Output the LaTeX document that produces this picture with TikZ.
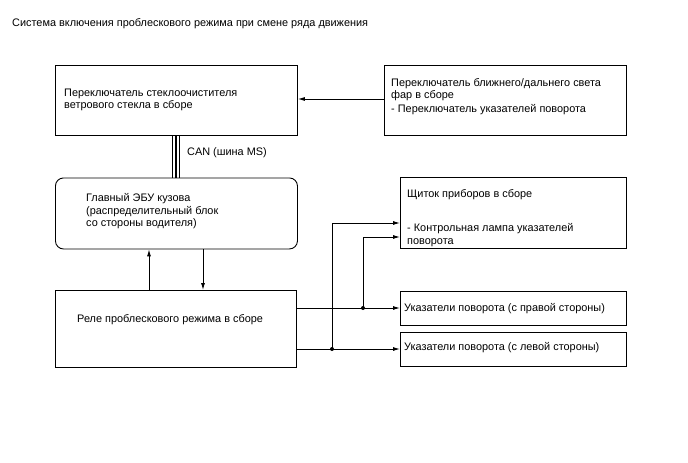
\documentclass[tikz,border=0pt]{standalone}
\usepackage{fontspec}
\setmainfont{Liberation Sans}
\usetikzlibrary{arrows.meta}
\begin{document}
\begin{tikzpicture}[x=1pt,y=-1pt,
  box/.style={draw,line width=0.9pt,inner sep=0pt,anchor=north west},
  txt/.style={inner sep=0pt,anchor=north west,align=left,font=\fontsize{10.9}{12.6}\selectfont},
  conn/.style={line width=0.9pt},
  arr/.style={conn,-{Latex[length=7pt,width=4pt]}},
  dot/.style={circle,fill,inner sep=0pt,minimum size=4pt}]
\useasboundingbox (0,0) rectangle (688,463);
\fill[white] (0,0) rectangle (688,463);
% title
\node[txt] (title) at (12,18.5) {Система включения проблескового режима при смене ряда движения};
% boxes
\node[box,minimum width=242pt,minimum height=70pt] (wiper) at (55,65) {};
\node[box,minimum width=242pt,minimum height=70pt] (head) at (384,65) {};
\node[box,rounded corners=8pt,minimum width=242pt,minimum height=71pt] (ecu) at (55,177.5) {};
\node[box,minimum width=226pt,minimum height=71pt] (meter) at (400,177) {};
\node[box,minimum width=241pt,minimum height=77pt] (relay) at (55,290) {};
\node[box,minimum width=226pt,minimum height=34pt] (rt) at (400,291) {};
\node[box,minimum width=226pt,minimum height=34pt] (lt) at (400,332) {};
% texts
\node[txt] (wipert) at (64,88.5) {Переключатель стеклоочистителя\\ветрового стекла в сборе};
\node[txt] (headt) at (391,78) {Переключатель ближнего/дальнего света\\фар в сборе};
\node[txt] (headt2) at (391,104) {- Переключатель указателей поворота};
\node[txt] (can) at (187,147.5) {CAN (шина MS)};
\node[txt] (ecut) at (86,193.5) {Главный ЭБУ кузова\\(распределительный блок\\со стороны водителя)};
\node[txt] (metert) at (407,189.5) {Щиток приборов в сборе};
\node[txt] (metert2) at (407,223.5) {- Контрольная лампа указателей\\поворота};
\node[txt] (relayt) at (77,314.5) {Реле проблескового режима в сборе};
\node[txt] (rtt) at (404,303.5) {Указатели поворота (с правой стороны)};
\node[txt] (ltt) at (404,342.5) {Указатели поворота (с левой стороны)};
% connectors
\draw[arr] (head.west |- 0,99) -- (wiper.east |- 0,99);
\foreach \dx in {-3.8,0,3.8}
  \draw[line width=1.3pt] ([xshift=\dx pt]wiper.south -| 176,0) -- ([xshift=\dx pt]ecu.north -| 176,0);
\draw[arr] (relay.north -| 149,0) -- (ecu.south -| 149,0);
\draw[arr] (ecu.south -| 203,0) -- (relay.north -| 203,0);
\coordinate (jr) at (363,308);
\coordinate (jl) at (332,349);
\draw[arr] (relay.east |- jr) -- (rt.west |- jr);
\draw[arr] (relay.east |- jl) -- (lt.west |- jl);
\draw[arr] (jr) -- (jr |- 0,237) -- (meter.west |- 0,237);
\draw[arr] (jl) -- (jl |- 0,223) -- (meter.west |- 0,223);
\node[dot] (djr) at (jr) {};
\node[dot] (djl) at (jl) {};
\end{tikzpicture}
\end{document}
